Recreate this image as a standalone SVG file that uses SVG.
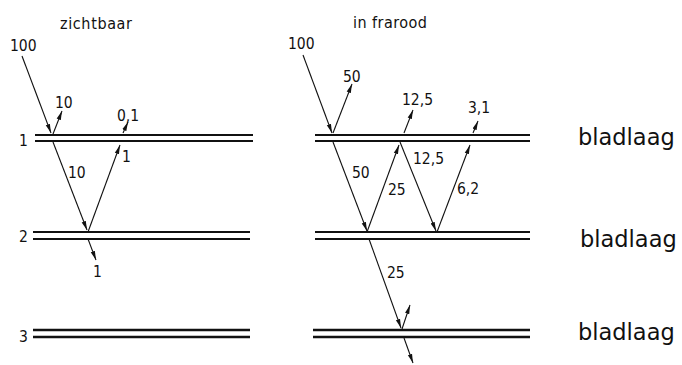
<svg xmlns="http://www.w3.org/2000/svg" width="682" height="365" viewBox="0 0 682 365">
<style>
.bg{fill:#fff}
.ln{stroke:#111;fill:none}
.l1{stroke-width:2}
.l3{stroke-width:2.6}
.ar{stroke:#111;stroke-width:1.1;fill:none;marker-end:url(#ah)}
.t{font-family:"Liberation Sans Narrow","DejaVu Sans Condensed",sans-serif;font-size:15.5px;fill:#111}
.ti{font-family:"Liberation Sans Narrow","DejaVu Sans Condensed",sans-serif;font-size:16px;fill:#111}
.bl{font-family:"DejaVu Sans",sans-serif;font-size:22.5px;fill:#111}
</style>
<defs>
<marker id="ah" markerWidth="10" markerHeight="6" refX="9" refY="3" orient="auto" markerUnits="userSpaceOnUse">
<path d="M0,0.8 L9,3 L0,5.2 z" fill="#111"/>
</marker>
</defs>
<rect class="bg" x="0" y="0" width="682" height="365"/>
<g id="titles">
<text class="ti" x="60" y="29" textLength="72" lengthAdjust="spacing">zichtbaar</text>
<text class="ti" x="353" y="28" textLength="74" lengthAdjust="spacing">in frarood</text>
</g>
<g id="layer1">
<line class="ln l1" x1="35" y1="135" x2="253" y2="135"/>
<line class="ln l1" x1="35" y1="141" x2="253" y2="141"/>
<line class="ln l1" x1="315" y1="135" x2="530" y2="135"/>
<line class="ln l1" x1="315" y1="141" x2="530" y2="141"/>
<text class="t" x="19" y="146">1</text>
<text class="bl" x="578" y="145">bladlaag</text>
</g>
<g id="layer2">
<line class="ln l1" x1="33" y1="232" x2="250" y2="232"/>
<line class="ln l1" x1="33" y1="239" x2="250" y2="239"/>
<line class="ln l1" x1="315" y1="232" x2="530" y2="232"/>
<line class="ln l1" x1="315" y1="239" x2="530" y2="239"/>
<text class="t" x="19" y="242">2</text>
<text class="bl" x="580" y="247">bladlaag</text>
</g>
<g id="layer3">
<line class="ln l3" x1="33" y1="330" x2="250" y2="330"/>
<line class="ln l3" x1="33" y1="337" x2="250" y2="337"/>
<line class="ln l3" x1="313" y1="330" x2="530" y2="330"/>
<line class="ln l3" x1="313" y1="337" x2="530" y2="337"/>
<text class="t" x="19" y="342">3</text>
<text class="bl" x="578" y="340">bladlaag</text>
</g>
<g id="connectors">
<line class="ar" x1="22" y1="56" x2="51" y2="133"/>
<line class="ar" x1="53" y1="134" x2="62" y2="111"/>
<line class="ar" x1="123" y1="133" x2="128" y2="122"/>
<line class="ar" x1="53" y1="142" x2="87" y2="230"/>
<line class="ar" x1="88" y1="232" x2="120" y2="145"/>
<line class="ar" x1="88" y1="239" x2="96" y2="260"/>
<line class="ar" x1="303" y1="55" x2="332" y2="133"/>
<line class="ar" x1="333" y1="133" x2="352" y2="84"/>
<line class="ar" x1="404" y1="133" x2="413" y2="110"/>
<line class="ar" x1="473" y1="133" x2="478" y2="121"/>
<line class="ar" x1="333" y1="142" x2="367" y2="231"/>
<line class="ar" x1="367" y1="232" x2="399" y2="145"/>
<line class="ar" x1="400" y1="142" x2="436" y2="231"/>
<line class="ar" x1="437" y1="232" x2="470" y2="145"/>
<line class="ar" x1="369" y1="239" x2="401" y2="328"/>
<line class="ar" x1="402" y1="329" x2="410" y2="305"/>
<line class="ar" x1="404" y1="338" x2="413" y2="363"/>
</g>
<g id="labels">
<text class="t" x="10" y="51">100</text>
<text class="t" x="55" y="108">10</text>
<text class="t" x="117" y="121">0,1</text>
<text class="t" x="68" y="178">10</text>
<text class="t" x="122" y="162">1</text>
<text class="t" x="93" y="277">1</text>
<text class="t" x="288" y="49">100</text>
<text class="t" x="343" y="82">50</text>
<text class="t" x="402" y="105">12,5</text>
<text class="t" x="468" y="113">3,1</text>
<text class="t" x="352" y="178">50</text>
<text class="t" x="413" y="164">12,5</text>
<text class="t" x="388" y="195">25</text>
<text class="t" x="457" y="194">6,2</text>
<text class="t" x="387" y="278">25</text>
</g>
</svg>
